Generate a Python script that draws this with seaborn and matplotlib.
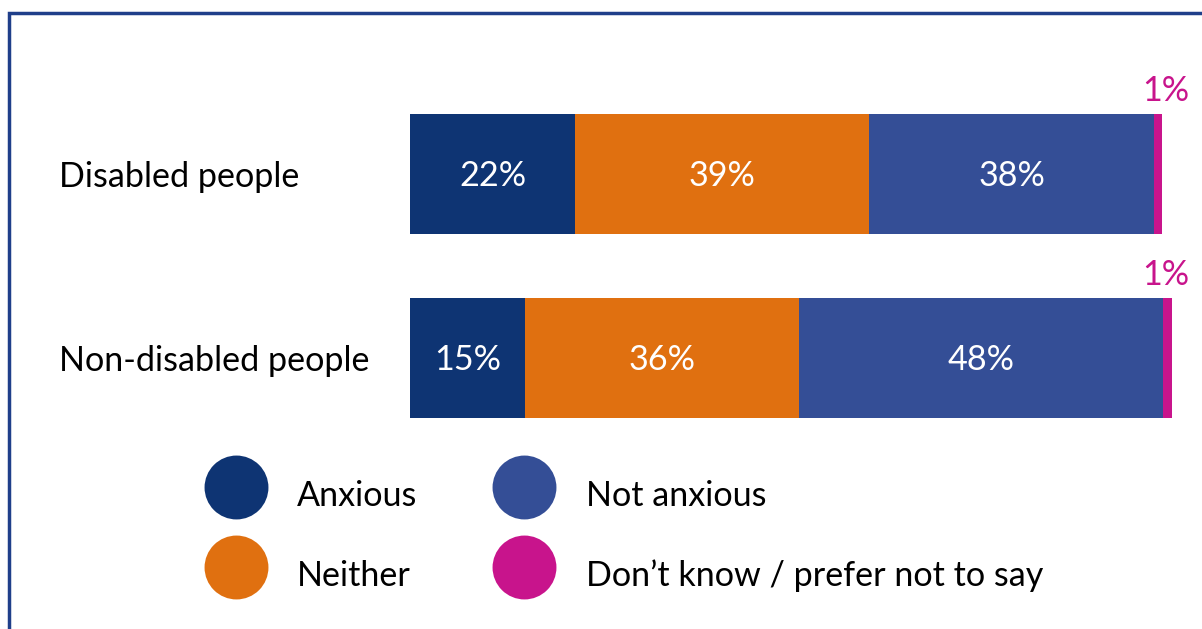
import numpy as np
import pandas as pd
import matplotlib
matplotlib.use("Agg")
import matplotlib.pyplot as plt
from matplotlib.lines import Line2D
from matplotlib.patches import Rectangle
import seaborn as sns

# ---- data ----
groups = ["Disabled people", "Non-disabled people"]
series = ["Anxious", "Neither", "Not anxious", "Don\u2019t know / prefer not to say"]
anxious = [22.0, 15.3]
neither = [39.0, 36.4]
not_anxious = [38.0, 48.4]
dont_know = [1.0, 1.2]
colors = ["#0E3473", "#E07010", "#344E96", "#C8148C"]

values = [anxious, neither, not_anxious, dont_know]

sns.set_theme(style="white")
plt.rcParams["font.family"] = ["Lato", "DejaVu Sans"]
plt.rcParams["text.color"] = "black"
FS = 24.6

W, H = 1202, 629
fig = plt.figure(figsize=(W / 100, H / 100), dpi=100)
ax = fig.add_axes([410 / W, (H - 450) / H, 1 - 410 / W, 368 / H])

cum = np.cumsum(np.array(values), axis=0)
# draw from the rightmost cumulative segment back to the left so earlier segments overlay
for k in range(len(series) - 1, -1, -1):
    df = pd.DataFrame({"group": groups, "value": cum[k]})
    sns.barplot(data=df, x="value", y="group", orient="h", color=colors[k],
                saturation=1, width=0.65, linewidth=0, ax=ax)

ax.set_xlim(0, (W - 410) / 7.52)
ax.set_ylim(1.5, -0.5)
ax.set_xlabel("")
ax.set_ylabel("")
ax.set_xticks([])
for s in ax.spines.values():
    s.set_visible(False)
ax.tick_params(axis="y", length=0, pad=253, labelsize=FS, labelcolor="black")
for t in ax.get_yticklabels():
    t.set_horizontalalignment("left")

# value labels inside segments
for k in range(3):
    for i in range(len(groups)):
        v = values[k][i]
        ax.annotate(f"{round(v)}%", xy=(cum[k][i] - v / 2, i), xytext=(0, -1.5),
                    textcoords="offset points", ha="center", va="center",
                    color="white", fontsize=FS)
# small segment labels above bars
for i in range(len(groups)):
    ax.annotate(f"{round(dont_know[i])}%", xy=(100.5, i - 0.325), xytext=(0, 17),
                textcoords="offset points", ha="center", va="center",
                color=colors[3], fontsize=FS)

# legend
handles = [Line2D([], [], linestyle="none", marker="o", markersize=46,
                  markerfacecolor=c, markeredgewidth=0) for c in colors]
leg = fig.legend(handles, series, loc="upper left",
                 bbox_to_anchor=(201.8 / W, (H - 468.7) / H), ncol=2, frameon=False,
                 fontsize=FS, borderpad=0, borderaxespad=0, handlelength=2.0,
                 handleheight=2.0, handletextpad=0.79, labelspacing=0.80,
                 columnspacing=2.13)
for t in leg.get_texts():
    t.set_color("black")

# frame
fig.add_artist(Rectangle((9 / W, -0.1), 1.2, (H - 13) / H + 0.1,
                         transform=fig.transFigure, fill=False,
                         edgecolor="#1F3F8A", linewidth=2.5))

fig.savefig("out.png", dpi=100)
